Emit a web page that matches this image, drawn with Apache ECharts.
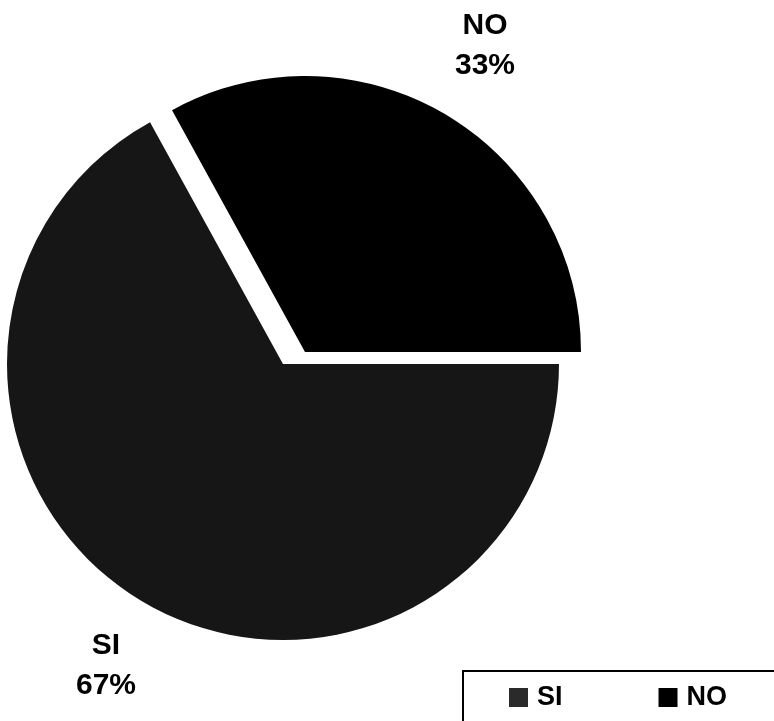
<!DOCTYPE html>
<html>
<head>
<meta charset="utf-8">
<script src="https://cdn.jsdelivr.net/npm/echarts@6/dist/echarts.min.js"></script>
<style>html,body{margin:0;padding:0;background:#fff;}#c{width:774px;height:721px;}</style>
</head>
<body>
<div id="c"></div>
<script>
const categories = ['NO', 'SI'];
const values = [33, 67];
const legendNames = ['SI', 'NO'];
const colors = { SI: '#161616', NO: '#000000' };

const FONT = '"Liberation Sans", Arial, sans-serif';
const chart = echarts.init(document.getElementById('c'), null, { renderer: 'canvas' });

function seriesFor(visibleName, center, layout) {
  return {
    type: 'pie',
    silent: true,
    center: center,
    radius: 276,
    startAngle: 118.8,
    clockwise: true,
    avoidLabelOverlap: false,
    percentPrecision: 0,
    emphasis: { disabled: true },
    labelLine: { show: false },
    labelLayout: layout,
    data: categories.map((name, i) => {
      const visible = name === visibleName;
      return {
        name: name,
        value: values[i],
        itemStyle: { color: visible ? colors[name] : 'rgba(0,0,0,0)', borderWidth: 0 },
        label: {
          show: visible,
          position: 'outside',
          formatter: '{b}\n{d}%',
          fontFamily: FONT,
          fontWeight: 'bold',
          fontSize: 30,
          lineHeight: 40,
          color: '#000',
          align: 'center'
        }
      };
    })
  };
}

chart.setOption({
  animation: false,
  backgroundColor: '#fff',
  legend: {
    left: 463,
    top: 671,
    width: 600,
    orient: 'horizontal',
    padding: [13, 140, 15, 46],
    borderColor: '#000',
    borderWidth: 2,
    itemWidth: 19,
    itemHeight: 19,
    itemGap: 96,
    icon: 'rect',
    selectedMode: false,
    textStyle: { fontFamily: FONT, fontWeight: 'bold', fontSize: 27, color: '#000', padding: [0, 0, 0, 4] },
    data: legendNames.map(n => ({ name: n, itemStyle: { color: n === 'SI' ? '#2a2a2a' : colors[n] } }))
  },
  series: [
    seriesFor('SI', [283, 364], { x: 106, y: 666, align: 'center', verticalAlign: 'middle' }),
    seriesFor('NO', [305, 352], { x: 485, y: 46, align: 'center', verticalAlign: 'middle' })
  ]
});
</script>
</body>
</html>
